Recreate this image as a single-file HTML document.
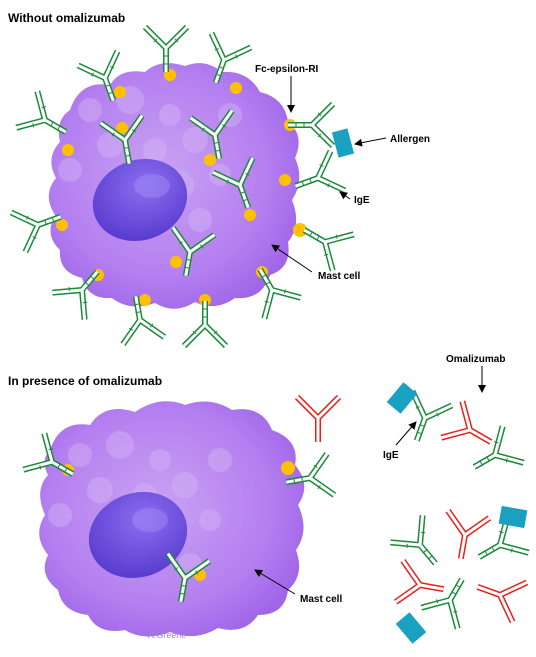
<!DOCTYPE html>
<html><head><meta charset="utf-8">
<style>
html,body{margin:0;padding:0;background:#fff;}
svg{display:block;font-family:"Liberation Sans",Arial,sans-serif;}
text{font-weight:bold;font-size:10px;fill:#000;}
</style></head>
<body>
<svg width="536" height="657" viewBox="0 0 536 657">
<defs>
  <radialGradient id="cellg" cx="45%" cy="45%" r="60%">
    <stop offset="0" stop-color="#c9a2f2"/>
    <stop offset="0.7" stop-color="#b47ff0"/>
    <stop offset="1" stop-color="#a066e8"/>
  </radialGradient>
  <radialGradient id="nucg" cx="60%" cy="35%" r="65%">
    <stop offset="0" stop-color="#8a6ff0"/>
    <stop offset="1" stop-color="#5b3ed0"/>
  </radialGradient>
  <marker id="arr" markerWidth="8" markerHeight="8" refX="7" refY="4" orient="auto">
    <path d="M0,0 L8,4 L0,8 z" fill="#000"/>
  </marker>
  <g id="abg">
    <path d="M0,0 L0,24 M0,0 L-17,-17 M0,0 L17,-17 M-4,-4 L-21,-21 M4,-4 L21,-21" stroke="#1a8a3a" stroke-width="6" fill="none"/>
    <path d="M0,0 L0,24 M0,0 L-17,-17 M0,0 L17,-17 M-4,-4 L-21,-21 M4,-4 L21,-21" stroke="#fff" stroke-width="3" fill="none"/>
    <path d="M-3,8 L3,8 M-3,16 L3,16 M-9,-9 L-12,-6 M9,-9 L12,-6" stroke="#1a8a3a" stroke-width="1"/>
  </g>
  <g id="abr">
    <path d="M0,0 L0,24 M0,0 L-17,-17 M0,0 L17,-17 M-4,-4 L-21,-21 M4,-4 L21,-21" stroke="#e8201c" stroke-width="6" fill="none"/>
    <path d="M0,0 L0,24 M0,0 L-17,-17 M0,0 L17,-17 M-4,-4 L-21,-21 M4,-4 L21,-21" stroke="#fff" stroke-width="3" fill="none"/>
  </g>
  <g id="tex" fill="#d4b4f6" opacity="0.45">
    <circle cx="0" cy="0" r="12"/><circle cx="40" cy="-10" r="14"/><circle cx="80" cy="5" r="11"/>
    <circle cx="20" cy="35" r="13"/><circle cx="65" cy="40" r="12"/><circle cx="105" cy="30" r="13"/>
    <circle cx="-20" cy="60" r="12"/><circle cx="90" cy="75" r="14"/><circle cx="130" cy="65" r="11"/>
    <circle cx="40" cy="95" r="12"/><circle cx="110" cy="110" r="12"/><circle cx="140" cy="5" r="12"/>
  </g>
</defs>

<!-- Top cell -->
<g>
  <path d="M70,110 Q80,80 110,85 Q120,68 145,72 Q160,58 185,66 Q205,58 222,72 Q248,70 260,92 Q285,98 288,122 Q305,135 295,158 Q305,180 292,200 Q302,225 288,242 Q292,268 270,275 Q262,300 235,298 Q215,312 195,302 Q175,315 155,303 Q130,312 112,298 Q88,300 82,278 Q58,272 60,250 Q44,235 55,215 Q42,195 56,178 Q45,158 60,142 Q55,120 70,110 Z" fill="url(#cellg)"/>
  <use href="#tex" transform="translate(90,110)"/>
  <ellipse cx="140" cy="200" rx="48" ry="40" fill="url(#nucg)" transform="rotate(-20 140 200)"/>
  <ellipse cx="152" cy="186" rx="18" ry="12" fill="#a08af5" opacity="0.5"/>
  <g fill="#ffc000">
    <circle cx="170" cy="75" r="6"/><circle cx="120" cy="92" r="6"/><circle cx="68" cy="150" r="6"/>
    <circle cx="122" cy="128" r="6"/><circle cx="210" cy="160" r="6"/><circle cx="290" cy="125" r="6"/>
    <circle cx="236" cy="88" r="6"/><circle cx="300" cy="230" r="7"/><circle cx="250" cy="215" r="6"/>
    <circle cx="62" cy="225" r="6"/><circle cx="98" cy="275" r="6"/><circle cx="145" cy="300" r="6"/>
    <circle cx="205" cy="300" r="6"/><circle cx="262" cy="272" r="6"/><circle cx="176" cy="262" r="6"/><circle cx="285" cy="180" r="6"/>
  </g>
</g>
<g>
  <use href="#abg" transform="translate(166,48)"/>
  <use href="#abg" transform="translate(105,78) rotate(-20)"/>
  <use href="#abg" transform="translate(224,60) rotate(20)"/>
  <use href="#abg" transform="translate(45,120) rotate(-60)"/>
  <use href="#abg" transform="translate(125,140) rotate(-10)"/>
  <use href="#abg" transform="translate(215,135) rotate(-10)"/>
  <use href="#abg" transform="translate(312,125) rotate(90)"/>
  <use href="#abg" transform="translate(318,178) rotate(70)"/>
  <use href="#abg" transform="translate(240,185) rotate(-20)"/>
  <use href="#abg" transform="translate(38,225) rotate(-110)"/>
  <use href="#abg" transform="translate(82,290) rotate(-140)"/>
  <use href="#abg" transform="translate(140,320) rotate(170)"/>
  <use href="#abg" transform="translate(205,325) rotate(180)"/>
  <use href="#abg" transform="translate(272,290) rotate(150)"/>
  <use href="#abg" transform="translate(325,242) rotate(120)"/>
  <use href="#abg" transform="translate(190,252) rotate(10)"/>
</g>
<g><rect x="335" y="130" width="16" height="26" fill="#1aa0c0" transform="rotate(-15 343 143)"/></g>

<text x="8" y="22" style="font-size:12px">Without omalizumab</text>
<text x="255" y="72">Fc-epsilon-RI</text>
<line x1="291" y1="76" x2="291" y2="112" stroke="#000" marker-end="url(#arr)"/>
<text x="390" y="142">Allergen</text>
<line x1="386" y1="138" x2="355" y2="144" stroke="#000" marker-end="url(#arr)"/>
<text x="354" y="203">IgE</text>
<line x1="350" y1="199" x2="340" y2="192" stroke="#000" marker-end="url(#arr)"/>
<text x="318" y="279">Mast cell</text>
<line x1="312" y1="272" x2="272" y2="245" stroke="#000" marker-end="url(#arr)"/>

<!-- Bottom cell -->
<g>
  <path d="M50,450 Q60,420 90,425 Q105,402 135,412 Q160,395 185,405 Q210,396 232,410 Q262,405 272,430 Q300,440 295,465 Q312,485 298,505 Q310,530 296,550 Q305,575 288,590 Q285,615 258,615 Q245,635 218,628 Q195,642 170,632 Q145,642 125,630 Q98,635 88,615 Q62,612 58,590 Q38,575 48,555 Q32,535 45,515 Q34,490 48,475 Q40,460 50,450 Z" fill="url(#cellg)"/>
  <use href="#tex" transform="translate(80,455)"/>
  <ellipse cx="138" cy="535" rx="50" ry="42" fill="url(#nucg)" transform="rotate(-20 138 535)"/>
  <ellipse cx="150" cy="520" rx="18" ry="12" fill="#a08af5" opacity="0.5"/>
  <g fill="#ffc000"><circle cx="68" cy="470" r="6"/><circle cx="288" cy="468" r="7"/><circle cx="200" cy="575" r="6"/></g>
</g>
<g>
  <use href="#abg" transform="translate(52,462) rotate(-60)"/>
  <use href="#abg" transform="translate(310,478) rotate(80)"/>
  <use href="#abg" transform="translate(185,578) rotate(10)"/>
  <use href="#abr" transform="translate(318,418) rotate(0)"/>
  <use href="#abg" transform="translate(425,418) rotate(20)"/>
  <use href="#abr" transform="translate(470,430) rotate(-60)"/>
  <use href="#abg" transform="translate(495,455) rotate(60)"/>
  <use href="#abg" transform="translate(420,545) rotate(-40)"/>
  <use href="#abr" transform="translate(465,535) rotate(10)"/>
  <use href="#abg" transform="translate(500,545) rotate(60)"/>
  <use href="#abr" transform="translate(420,585) rotate(-80)"/>
  <use href="#abr" transform="translate(500,595) rotate(110)"/>
  <use href="#abg" transform="translate(450,600) rotate(-150)"/>
</g>
<g fill="#1aa0c0">
  <rect x="393" y="385" width="18" height="26" transform="rotate(40 402 398)"/>
  <rect x="500" y="508" width="26" height="18" transform="rotate(10 513 517)"/>
  <rect x="402" y="615" width="18" height="26" transform="rotate(-40 411 628)"/>
</g>

<text x="8" y="385" style="font-size:12px">In presence of omalizumab</text>
<text x="446" y="362">Omalizumab</text>
<line x1="482" y1="366" x2="482" y2="392" stroke="#000" marker-end="url(#arr)"/>
<text x="383" y="458">IgE</text>
<line x1="396" y1="445" x2="416" y2="422" stroke="#000" marker-end="url(#arr)"/>
<text x="300" y="602">Mast cell</text>
<line x1="295" y1="594" x2="255" y2="570" stroke="#000" marker-end="url(#arr)"/>
<text x="148" y="638" style="font-size:9px;font-weight:normal;fill:#9a88b8;font-style:italic">A.Greene</text>
</svg>
</body></html>
